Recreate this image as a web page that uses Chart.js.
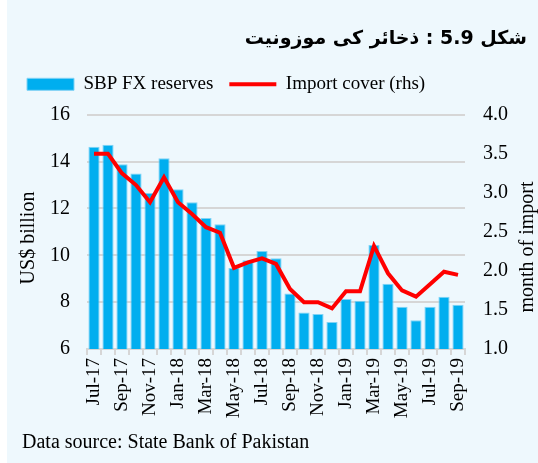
<!DOCTYPE html>
<html>
<head>
<meta charset="utf-8">
<script src="https://cdn.jsdelivr.net/npm/chart.js@4.4.0/dist/chart.umd.min.js"></script>
<style>
  body { margin: 0; background: #ffffff; }
  #wrap { position: absolute; left: 7px; top: 0; width: 531px; height: 463px; background: #eef8fd; }
</style>
</head>
<body>
<div id="wrap"><canvas id="reserveChart" width="531" height="463"></canvas></div>
<script>
const months = ["Jul-17", "Aug-17", "Sep-17", "Oct-17", "Nov-17", "Dec-17", "Jan-18", "Feb-18", "Mar-18",
  "Apr-18", "May-18", "Jun-18", "Jul-18", "Aug-18", "Sep-18", "Oct-18", "Nov-18", "Dec-18", "Jan-19",
  "Feb-19", "Mar-19", "Apr-19", "May-19", "Jun-19", "Jul-19", "Aug-19", "Sep-19"];
// SBP FX reserves, US$ billion
const reserves = [14.64, 14.72, 13.89, 13.49, 12.66, 14.14, 12.82, 12.27, 11.59, 11.33, 9.46, 9.79, 10.18,
  9.87, 8.37, 7.56, 7.49, 7.15, 8.14, 8.06, 10.44, 8.79, 7.8, 7.23, 7.8, 8.23, 7.89];
// import cover, months of import (rhs)
const importCover = [3.5, 3.5, 3.25, 3.1, 2.88, 3.2, 2.88, 2.73, 2.56, 2.49, 2.04, 2.11, 2.16, 2.09, 1.77,
  1.6, 1.6, 1.52, 1.74, 1.74, 2.32, 1.97, 1.75, 1.67, 1.83, 1.99, 1.95];

const serif = "'Liberation Serif', 'DejaVu Serif', serif";
const gridGray = "#d6d6d6";

// legend needs a bit more room below it than chart.js gives
const legendHeight = {
  id: "legendHeight",
  beforeInit(chart) {
    const fit = chart.legend.fit;
    chart.legend.fit = function () {
      fit.bind(chart.legend)();
      this.height = 56;
    };
  },
};

// axis titles (both read bottom to top) and the source note
const extraText = {
  id: "extraText",
  afterDraw(chart) {
    const c = chart.ctx;
    c.save();
    c.fillStyle = "#000";
    c.font = "20px " + serif;
    c.textAlign = "center";
    c.textBaseline = "middle";
    c.save();
    c.translate(22, 238);
    c.rotate(-Math.PI / 2);
    c.fillText("US$ billion", 0, 0);
    c.restore();
    c.save();
    c.translate(521, 247);
    c.rotate(-Math.PI / 2);
    c.fillText("month of import", 0, 0);
    c.restore();
    c.textAlign = "left";
    c.fillText("Data source: State Bank of Pakistan", 15, 443);
    c.restore();
  },
};

const ctx = document.getElementById("reserveChart");
new Chart(ctx, {
  type: "bar",
  data: {
    labels: months,
    datasets: [
      {
        type: "line",
        label: "Import cover (rhs)",
        data: importCover,
        yAxisID: "yRight",
        borderColor: "#ff0000",
        backgroundColor: "#ff0000",
        borderWidth: 4,
        pointRadius: 0,
        tension: 0,
        order: 0,
        pointStyle: "line",
      },
      {
        label: "SBP FX reserves",
        data: reserves,
        yAxisID: "y",
        backgroundColor: "#00aeef",
        borderColor: "#7fd3f5",
        borderWidth: 1,
        barPercentage: 0.8,
        categoryPercentage: 1,
        order: 1,
        pointStyle: "rect",
      },
    ],
  },
  options: {
    responsive: false,
    animation: false,
    layout: { padding: { left: 4, right: 11, top: 0, bottom: 44 } },
    plugins: {
      title: {
        display: true,
        text: "شکل 5.9 : ذخائر کی موزونیت",
        align: "end",
        color: "#000",
        font: { family: "'DejaVu Sans', sans-serif", size: 19, weight: "bold" },
        padding: { top: 28, bottom: 8 },
      },
      legend: {
        position: "top",
        align: "start",
        reverse: true,
        labels: {
          usePointStyle: true,
          pointStyleWidth: 47,
          boxHeight: 12,
          color: "#000",
          font: { family: serif, size: 19 },
          padding: 16,
        },
      },
      tooltip: { enabled: false },
    },
    scales: {
      x: {
        offset: true,
        afterFit: (s) => { s.height = 70; },
        grid: { display: true, drawOnChartArea: false, drawTicks: true, tickLength: 6, color: gridGray, lineWidth: 2, offset: true },
        border: { display: true, color: gridGray, width: 2 },
        ticks: {
          autoSkip: false,
          maxRotation: 90,
          minRotation: 90,
          color: "#000",
          font: { family: serif, size: 19 },
          callback: function (value, index) {
            return index % 2 === 0 ? months[index] : "";
          },
        },
      },
      y: {
        position: "left",
        min: 6,
        max: 16,
        afterFit: (s) => { s.width = 76; },
        ticks: { stepSize: 2, color: "#000", font: { family: serif, size: 20 }, padding: 17 },
        grid: { color: gridGray, lineWidth: 2, drawTicks: false },
        border: { display: false },
      },
      yRight: {
        position: "right",
        min: 1,
        max: 4,
        afterFit: (s) => { s.width = 62; },
        ticks: {
          stepSize: 0.5,
          color: "#000",
          font: { family: serif, size: 20 },
          padding: 18,
          callback: function (value) {
            return value.toFixed(1);
          },
        },
        grid: { drawOnChartArea: false, drawTicks: false },
        border: { display: false },
      },
    },
  },
  plugins: [legendHeight, extraText],
});
</script>
</body>
</html>
